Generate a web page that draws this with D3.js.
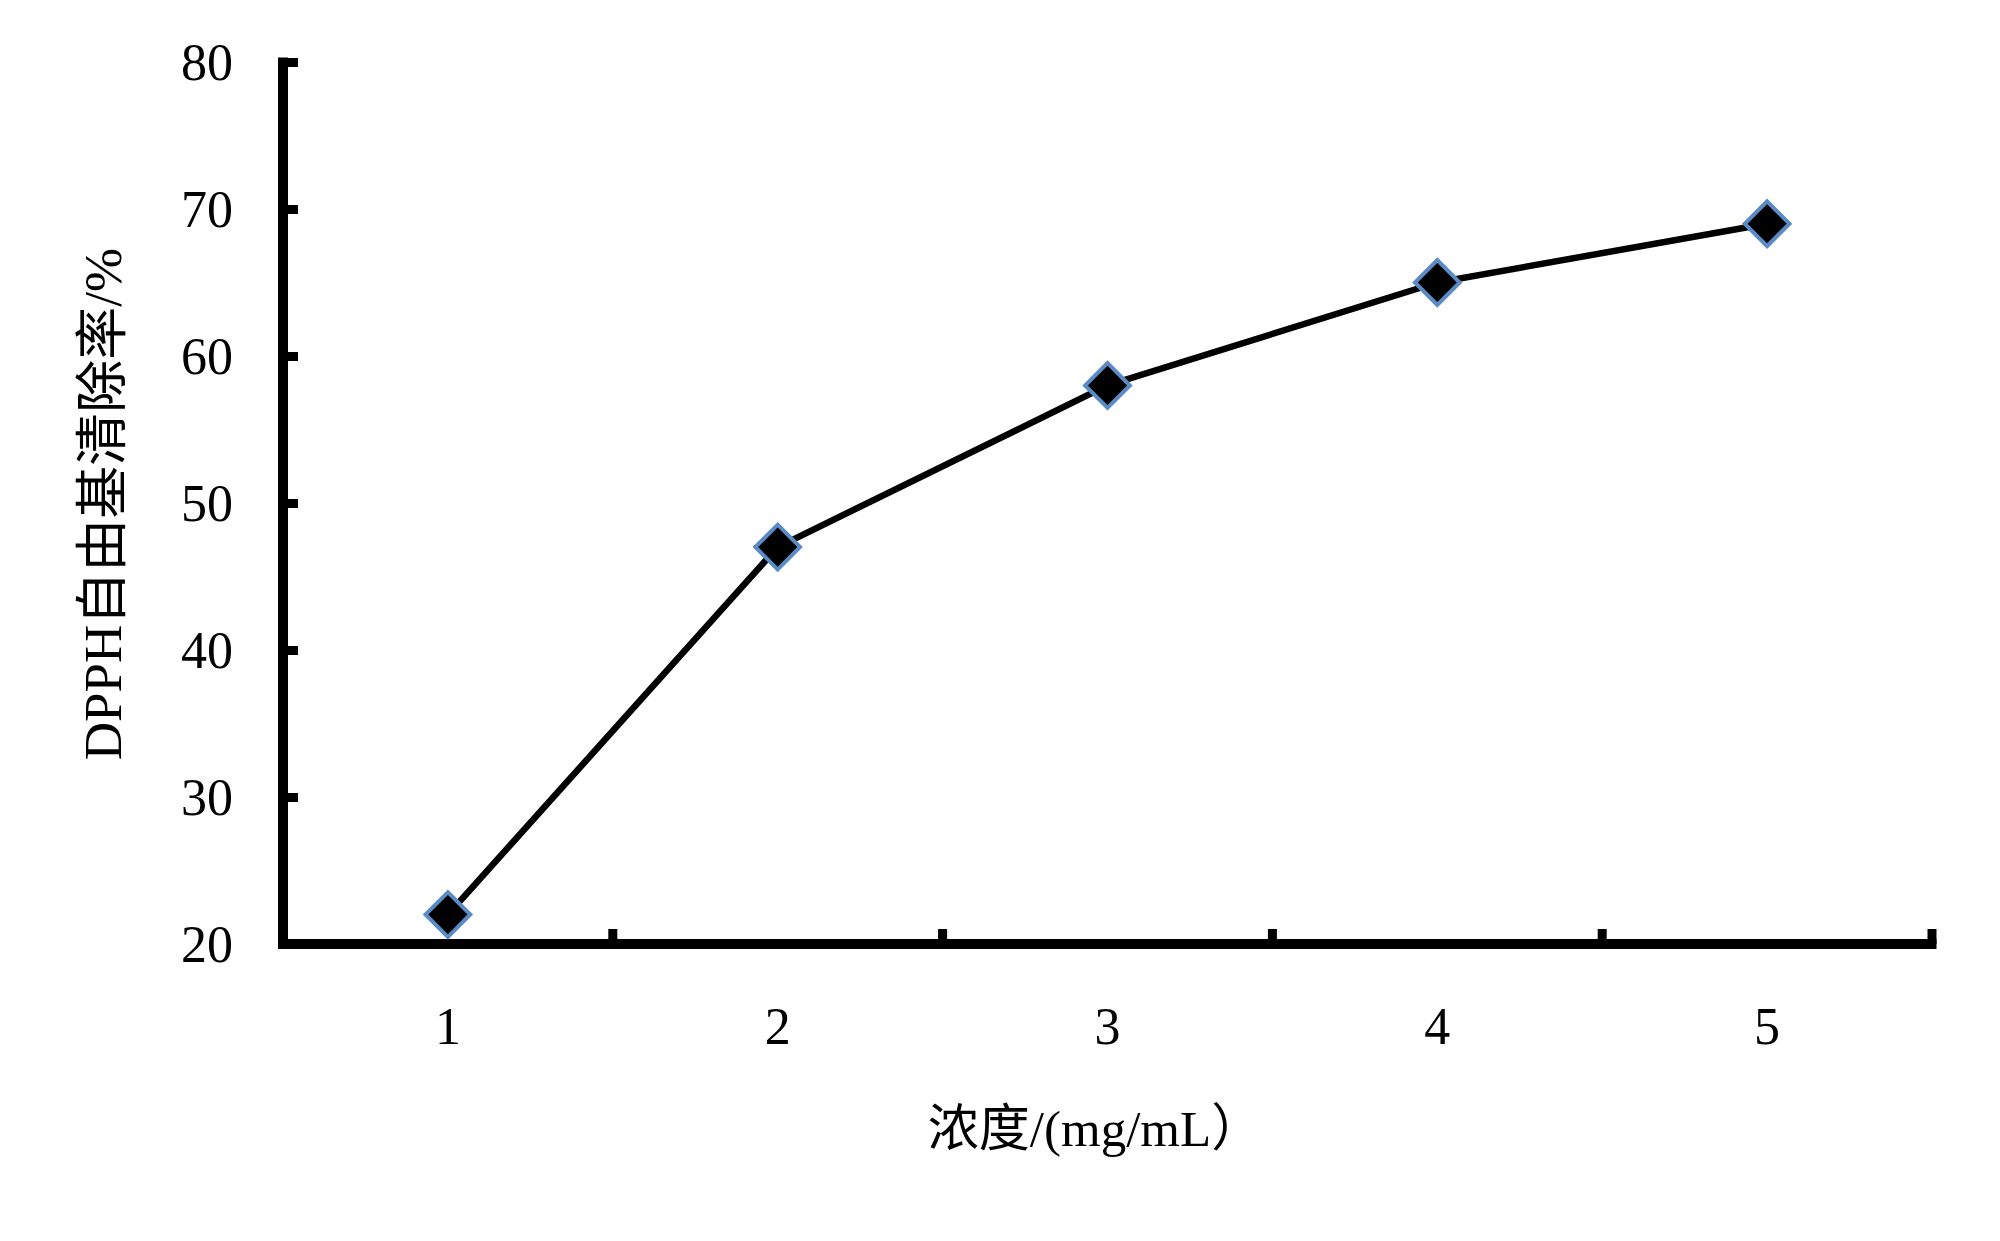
<!DOCTYPE html>
<html><head><meta charset="utf-8">
<script src="https://cdn.jsdelivr.net/npm/d3@7"></script>
<style>html,body{margin:0;padding:0;background:#fff;}</style>
</head><body>
<svg id="chart" width="2000" height="1241"></svg>
<script>
const categories = ["1", "2", "3", "4", "5"];
const values = [22, 47, 58, 65, 69];
const yTicks = [20, 30, 40, 50, 60, 70, 80];
const xTitle = "浓度/(mg/mL）";
const yTitle = "DPPH自由基清除率/%";

const svg = d3.select("#chart");
svg.append("rect").attr("width", 2000).attr("height", 1241).attr("fill", "#fff");
const font = "'Liberation Serif', 'Times New Roman', 'Noto Sans CJK SC', serif";

const x = d3.scaleBand().domain(categories).range([283, 1932]).padding(0);
const y = d3.scaleLinear().domain([20, 80]).range([944, 62]);

// Y axis
const yAxis = svg.append("g").attr("transform", "translate(283,0)")
  .call(d3.axisRight(y).tickValues(yTicks).tickSize(15).tickFormat(""));
yAxis.select(".domain").remove();
yAxis.selectAll(".tick line").attr("stroke", "#000").attr("stroke-width", 9);
svg.append("line").attr("x1", 283).attr("x2", 283).attr("y1", y(80) - 4.5).attr("y2", y(20) + 5)
  .attr("stroke", "#000").attr("stroke-width", 10);
svg.append("g").selectAll("text").data(yTicks).join("text")
  .attr("x", 233).attr("y", d => y(d)).attr("dy", "0.35em")
  .attr("text-anchor", "end").attr("font-family", font).attr("font-size", 52)
  .attr("fill", "#000").text(d => d);

// X axis
const edges = categories.slice(1).map(c => x(c)).concat([x.range()[1]]);
svg.append("g").selectAll("line").data(edges).join("line")
  .attr("x1", d => d).attr("x2", d => d).attr("y1", 944).attr("y2", 929)
  .attr("stroke", "#000").attr("stroke-width", 9);
svg.append("line").attr("x1", 278).attr("x2", x.range()[1] + 4.5).attr("y1", 944).attr("y2", 944)
  .attr("stroke", "#000").attr("stroke-width", 10);
svg.append("g").selectAll("text").data(categories).join("text")
  .attr("x", d => x(d) + x.bandwidth() / 2).attr("y", 1044)
  .attr("text-anchor", "middle").attr("font-family", font).attr("font-size", 52)
  .attr("fill", "#000").text(d => d);

// Titles
svg.append("text").attr("x", 1095).attr("y", 1146).attr("text-anchor", "middle")
  .attr("font-family", font).attr("font-size", 51).attr("fill", "#000").text(xTitle);
svg.append("text").attr("transform", "translate(121,504) rotate(-90)").attr("text-anchor", "middle")
  .attr("font-family", font).attr("font-size", 53).attr("fill", "#000").text(yTitle);

// Line
const pts = categories.map((c, i) => [x(c) + x.bandwidth() / 2, y(values[i])]);
svg.append("path").attr("d", d3.line()(pts)).attr("fill", "none")
  .attr("stroke", "#000").attr("stroke-width", 6.5).attr("stroke-linejoin", "round");

// Markers
const sym = d3.symbol().type(d3.symbolSquare).size(1000);
svg.append("g").selectAll("path").data(pts).join("path")
  .attr("d", sym)
  .attr("transform", d => `translate(${d[0]},${d[1]}) rotate(45)`)
  .attr("fill", "#000").attr("stroke", "#5b8bc6").attr("stroke-width", 4);
</script>
</body></html>
